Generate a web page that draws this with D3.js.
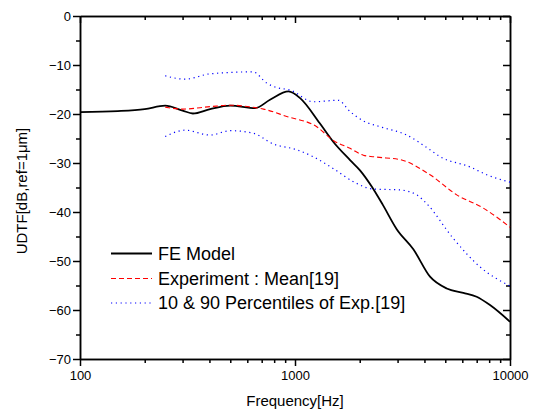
<!DOCTYPE html>
<html>
<head>
<meta charset="utf-8">
<script src="https://cdn.jsdelivr.net/npm/d3@7"></script>
<style>
  body { margin: 0; background: #fff; }
  svg { font-family: Arial, "Liberation Sans", sans-serif; }
  .axis path, .axis line { stroke: #000; stroke-width: 1.5; }
  .axis text { font-size: 13px; fill: #000; }
</style>
</head>
<body>
<div id="chart"></div>
<script>
// FE model (black solid)
const feFreq = [100, 150, 200, 249, 300, 335, 403, 500, 652, 765, 933, 1059, 1304, 1502, 1803, 2006, 2274, 2566, 2972, 3552, 4246, 5077, 6066, 6996, 8072, 10000];
const feVal  = [-19.6, -19.4, -19.0, -18.3, -19.3, -19.9, -19.0, -18.3, -18.8, -17.1, -15.4, -16.8, -21.9, -25.6, -29.4, -31.5, -34.8, -38.6, -43.5, -47.6, -53.2, -55.6, -56.5, -57.3, -59.0, -62.4];

// Experiment mean (red dashed)
const meanFreq = [249, 300, 403, 500, 652, 713, 915, 1262, 1507, 1803, 2078, 2400, 3078, 4246, 5652, 7510, 10000];
const meanVal  = [-18.6, -19.0, -18.5, -18.2, -18.7, -19.0, -20.5, -22.6, -25.4, -27.0, -28.4, -28.8, -29.3, -32.4, -36.5, -39.2, -43.1];

// 90 percentile (blue dotted, upper)
const upFreq = [249, 308, 403, 638, 739, 822, 948, 1219, 1589, 1803, 2078, 2489, 3309, 4246, 4726, 6517, 7790, 10000];
const upVal  = [-12.2, -12.9, -11.8, -11.4, -13.7, -14.6, -15.1, -17.5, -17.2, -19.5, -21.4, -22.6, -24.3, -27.3, -28.7, -30.8, -32.4, -33.9];

// 10 percentile (blue dotted, lower)
const loFreq = [249, 308, 403, 500, 638, 790, 1019, 1213, 1502, 1867, 2298, 3078, 3684, 4098, 5447, 7250, 10000];
const loVal  = [-24.6, -23.3, -24.3, -23.4, -23.9, -26.1, -27.3, -28.7, -31.1, -33.8, -35.3, -35.5, -36.5, -38.3, -45.4, -51.2, -55.1];

const xMajor = [100, 1000, 10000];
const xMinor = [200, 300, 400, 500, 600, 700, 800, 900, 2000, 3000, 4000, 5000, 6000, 7000, 8000, 9000];
const yMajor = [0, -10, -20, -30, -40, -50, -60, -70];
const yMinor = [-5, -15, -25, -35, -45, -55, -65];

const legendLabels = ['FE Model', 'Experiment : Mean[19]', '10 & 90 Percentiles of Exp.[19]'];

const config = {
  width: 533,
  height: 412,
  margin: {top: 16, right: 23, bottom: 53, left: 80},
  majorTick: 7,
  minorTick: 4
};

const innerW = config.width - config.margin.left - config.margin.right;
const innerH = config.height - config.margin.top - config.margin.bottom;

const svg = d3.select('#chart').append('svg')
    .attr('width', config.width)
    .attr('height', config.height);

const chart = svg.append('g')
    .attr('transform', `translate(${config.margin.left},${config.margin.top})`);

const xScale = d3.scaleLog().domain([100, 10000]).range([0, innerW]);
const yScale = d3.scaleLinear().domain([-70, 0]).range([innerH, 0]);

// Axes: bottom/left ticks outward, top/right ticks inward
chart.append('g').attr('class', 'axis')
    .attr('transform', `translate(0,${innerH})`)
    .call(d3.axisBottom(xScale).tickValues(xMajor).tickFormat(d3.format('d'))
      .tickSize(config.majorTick).tickSizeOuter(0).tickPadding(5));
chart.append('g').attr('class', 'axis')
    .attr('transform', `translate(0,${innerH})`)
    .call(d3.axisBottom(xScale).tickValues(xMinor).tickFormat('')
      .tickSize(config.minorTick).tickSizeOuter(0));

chart.append('g').attr('class', 'axis')
    .call(d3.axisTop(xScale).tickValues(xMajor).tickFormat('')
      .tickSize(-config.majorTick).tickSizeOuter(0));
chart.append('g').attr('class', 'axis')
    .call(d3.axisTop(xScale).tickValues(xMinor).tickFormat('')
      .tickSize(-config.minorTick).tickSizeOuter(0));

chart.append('g').attr('class', 'axis')
    .call(d3.axisLeft(yScale).tickValues(yMajor).tickFormat(d3.format('d'))
      .tickSize(config.majorTick).tickSizeOuter(0).tickPadding(2));
chart.append('g').attr('class', 'axis')
    .call(d3.axisLeft(yScale).tickValues(yMinor).tickFormat('')
      .tickSize(config.minorTick).tickSizeOuter(0));

chart.append('g').attr('class', 'axis')
    .attr('transform', `translate(${innerW},0)`)
    .call(d3.axisRight(yScale).tickValues(yMajor).tickFormat('')
      .tickSize(-config.majorTick).tickSizeOuter(0));
chart.append('g').attr('class', 'axis')
    .attr('transform', `translate(${innerW},0)`)
    .call(d3.axisRight(yScale).tickValues(yMinor).tickFormat('')
      .tickSize(-config.minorTick).tickSizeOuter(0));

chart.selectAll('.axis text').attr('font-family', 'Arial, "Liberation Sans", sans-serif');

// Axis titles
svg.append('text')
    .attr('x', config.margin.left + innerW / 2)
    .attr('y', 406)
    .attr('text-anchor', 'middle')
    .attr('font-size', 15)
    .text('Frequency[Hz]');

svg.append('text')
    .attr('transform', 'translate(27,191) rotate(-90)')
    .attr('text-anchor', 'middle')
    .attr('font-size', 15)
    .text('UDTF[dB,ref=1\u03bcm]');

// Curves
const line = d3.line()
    .x(d => xScale(d[0]))
    .y(d => yScale(d[1]))
    .curve(d3.curveMonotoneX);

const series = [
  {freq: feFreq, val: feVal, color: '#000', width: 1.8, dash: null},
  {freq: meanFreq, val: meanVal, color: '#ff0000', width: 1.1, dash: '5,3'},
  {freq: upFreq, val: upVal, color: '#0000ff', width: 1.2, dash: '1.2,3.6'},
  {freq: loFreq, val: loVal, color: '#0000ff', width: 1.2, dash: '1.2,3.6'}
];

chart.selectAll('.curve')
    .data(series)
  .join('path')
    .attr('class', 'curve')
    .attr('fill', 'none')
    .attr('stroke', d => d.color)
    .attr('stroke-width', d => d.width)
    .attr('stroke-dasharray', d => d.dash)
    .attr('d', d => line(d.freq.map((f, i) => [f, d.val[i]])));

// Legend
const legendRows = [253.5, 278.5, 303];
const legendG = svg.append('g');
const legendItems = legendG.selectAll('g')
    .data(series.slice(0, 3))
  .join('g')
    .attr('transform', (d, i) => `translate(111,${legendRows[i]})`);

legendItems.append('line')
    .attr('x1', 0).attr('x2', 41)
    .attr('stroke', d => d.color)
    .attr('stroke-width', d => d.width)
    .attr('stroke-dasharray', d => d.dash);

legendItems.append('text')
    .attr('x', 47)
    .attr('dy', '0.36em')
    .attr('font-size', 18)
    .text((d, i) => legendLabels[i]);
</script>
</body>
</html>
